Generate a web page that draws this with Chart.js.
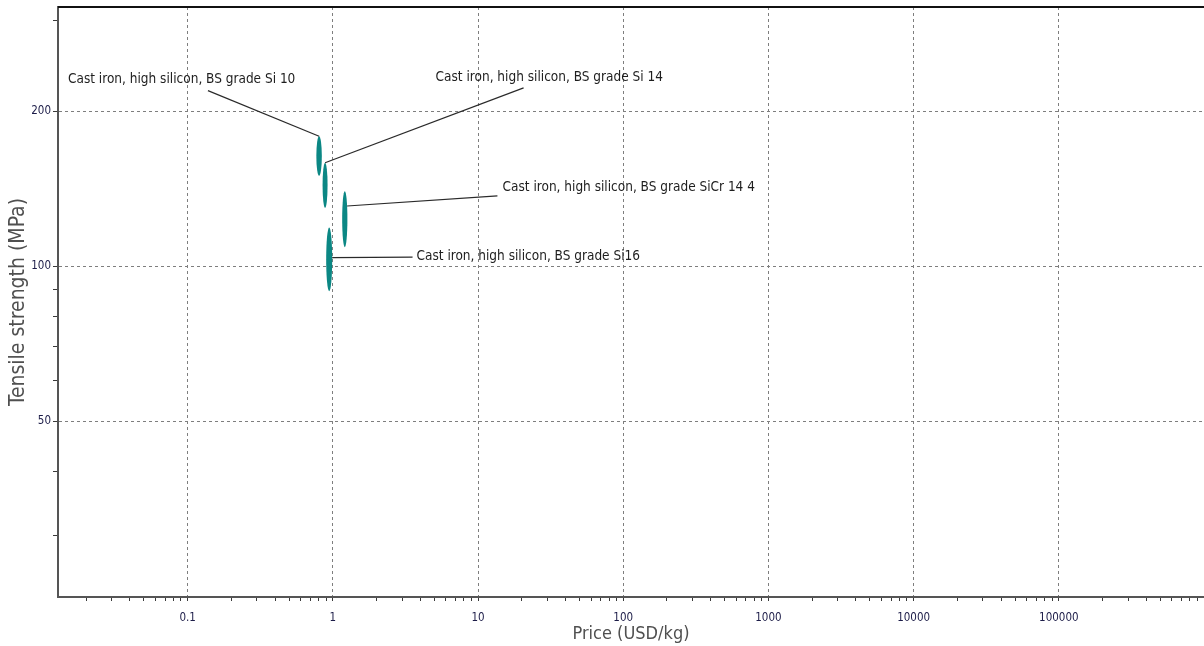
<!DOCTYPE html>
<html>
<head>
<meta charset="utf-8">
<script src="https://cdn.jsdelivr.net/npm/chart.js@4.4.1/dist/chart.umd.min.js"></script>
<style>
  html, body { margin: 0; padding: 0; background: #ffffff; }
  canvas { display: block; }
</style>
</head>
<body>
<canvas id="chart" width="1204" height="646"></canvas>
<script>
// Material records: price range (USD/kg) and tensile strength range (MPa)
const materials = [
  'Cast iron, high silicon, BS grade Si 10',
  'Cast iron, high silicon, BS grade Si 14',
  'Cast iron, high silicon, BS grade SiCr 14 4',
  'Cast iron, high silicon, BS grade Si16'
];
const priceLow     = [0.77, 0.85, 1.16, 0.90];
const priceHigh    = [0.84, 0.92, 1.26, 0.99];
const strengthLow  = [150, 130, 109, 89.5];
const strengthHigh = [179, 159, 140, 119];

// Labelled ticks (the rest of each decade gets an unlabelled tick mark)
const xTickLabels = [0.1, 1, 10, 100, 1000, 10000, 100000];
const yTickLabels = [50, 100, 200];

// Axis extents
const xRange = [0.0128, 1e6];
const yRange = [22.8, 319];

// Callout placement in data space: text anchor (left, middle), leader start,
// and the angle on the ellipse outline where the leader lands.
const callouts = [
  { text: [0.0150, 231.0], from: [0.138, 219.5], angle: -90 },
  { text: [5.10, 233.0],   from: [20.6, 222.2],  angle: -90 },
  { text: [14.75, 142.5],  from: [13.6, 137.1],  angle: -28 },
  { text: [3.77, 104.6],   from: [3.54, 104.2],  angle: -3 }
];

const FONT = '"DejaVu Sans Condensed", "DejaVu Sans", sans-serif';

// every mantissa 1..9 of every decade inside [lo, hi]
function decadeTicks(lo, hi) {
  const out = [];
  for (let e = Math.floor(Math.log10(lo)); e <= Math.ceil(Math.log10(hi)); e++) {
    for (let m = 1; m <= 9; m++) {
      const v = parseFloat((m * Math.pow(10, e)).toPrecision(6));
      if (v >= lo && v <= hi) out.push(v);
    }
  }
  return out;
}
const isLabelled = (list, v) => list.some(t => Math.abs(t - v) / t < 1e-9);

const rangeEllipses = {
  id: 'rangeEllipses',
  afterDatasetsDraw(chart) {
    const { ctx, chartArea, scales: { x, y } } = chart;
    const geo = materials.map((name, i) => {
      const x0 = x.getPixelForValue(priceLow[i]), x1 = x.getPixelForValue(priceHigh[i]);
      const y0 = y.getPixelForValue(strengthLow[i]), y1 = y.getPixelForValue(strengthHigh[i]);
      return { cx: (x0 + x1) / 2, cy: (y0 + y1) / 2, rx: Math.abs(x1 - x0) / 2, ry: Math.abs(y0 - y1) / 2 };
    });

    ctx.save();
    // frame line along the top of the plot
    ctx.strokeStyle = '#111111';
    ctx.lineWidth = 2;
    ctx.beginPath();
    ctx.moveTo(chartArea.left, chartArea.top);
    ctx.lineTo(chartArea.right, chartArea.top);
    ctx.stroke();

    ctx.beginPath();
    ctx.rect(chartArea.left, chartArea.top, chartArea.right - chartArea.left, chartArea.bottom - chartArea.top);
    ctx.clip();

    ctx.fillStyle = '#0b8784';
    geo.forEach(g => {
      ctx.beginPath();
      ctx.ellipse(g.cx, g.cy, g.rx, g.ry, 0, 0, Math.PI * 2);
      ctx.fill();
    });

    ctx.strokeStyle = '#2a2a2a';
    ctx.lineWidth = 1.2;
    ctx.fillStyle = '#1e1e1e';
    ctx.font = '13.5px ' + FONT;
    ctx.textAlign = 'left';
    ctx.textBaseline = 'middle';
    callouts.forEach((c, i) => {
      const g = geo[i];
      const a = c.angle * Math.PI / 180;
      const ex = g.cx + g.rx * Math.cos(a), ey = g.cy + g.ry * Math.sin(a);
      const sx = x.getPixelForValue(c.from[0]), sy = y.getPixelForValue(c.from[1]);
      ctx.beginPath();
      ctx.moveTo(sx, sy);
      ctx.lineTo(ex, ey);
      ctx.stroke();
      ctx.fillText(materials[i], x.getPixelForValue(c.text[0]), y.getPixelForValue(c.text[1]));
    });
    ctx.restore();
  }
};

const xTicks = decadeTicks(xRange[0], xRange[1]);
const yTicks = decadeTicks(yRange[0], yRange[1]);

new Chart(document.getElementById('chart'), {
  type: 'scatter',
  data: {
    datasets: [{
      label: 'Materials',
      data: materials.map((m, i) => ({
        x: Math.sqrt(priceLow[i] * priceHigh[i]),
        y: Math.sqrt(strengthLow[i] * strengthHigh[i])
      })),
      pointRadius: 0,
      pointHoverRadius: 0
    }]
  },
  options: {
    responsive: false,
    devicePixelRatio: 1,
    animation: false,
    layout: { padding: { left: 0, right: 0, top: 7, bottom: 0 } },
    plugins: { legend: { display: false }, tooltip: { enabled: false } },
    scales: {
      x: {
        type: 'logarithmic',
        min: xRange[0],
        max: xRange[1],
        afterBuildTicks: s => { s.ticks = xTicks.map(v => ({ value: v })); },
        afterFit: s => { s.height = 49; s.paddingLeft = 0; s.paddingRight = 0; },
        ticks: {
          autoSkip: false,
          maxRotation: 0,
          padding: 10,
          color: '#1c1c48',
          font: { family: FONT, size: 11.5 },
          callback: v => (isLabelled(xTickLabels, v) ? String(v) : '')
        },
        grid: {
          color: c => (c.tick && isLabelled(xTickLabels, c.tick.value) ? '#7e7e7e' : 'rgba(0,0,0,0)'),
          tickColor: '#3a3a3a',
          tickLength: 4,
          tickWidth: 1
        },
        border: { display: true, color: '#555555', width: 2, dash: [3, 3] },
        title: {
          display: true,
          text: 'Price (USD/kg)',
          color: '#505050',
          font: { family: FONT, size: 18, lineHeight: 1.2 },
          padding: { top: 0, bottom: 1 }
        }
      },
      y: {
        type: 'logarithmic',
        min: yRange[0],
        max: yRange[1],
        afterBuildTicks: s => { s.ticks = yTicks.map(v => ({ value: v })); },
        afterFit: s => { s.width = 58; s.paddingTop = 0; s.paddingBottom = 0; },
        ticks: {
          autoSkip: false,
          padding: 2,
          color: '#1c1c48',
          font: { family: FONT, size: 11.5 },
          callback: v => (isLabelled(yTickLabels, v) ? String(v) : '')
        },
        grid: {
          color: c => (c.tick && isLabelled(yTickLabels, c.tick.value) ? '#7e7e7e' : 'rgba(0,0,0,0)'),
          tickColor: '#3a3a3a',
          tickLength: 5,
          tickWidth: 1
        },
        border: { display: true, color: '#555555', width: 2, dash: [3, 3] },
        title: {
          display: true,
          text: 'Tensile strength (MPa)',
          color: '#505050',
          font: { family: FONT, size: 21, lineHeight: 1.2 },
          padding: { top: 6, bottom: 0 }
        }
      }
    }
  },
  plugins: [rangeEllipses]
});
</script>
</body>
</html>
